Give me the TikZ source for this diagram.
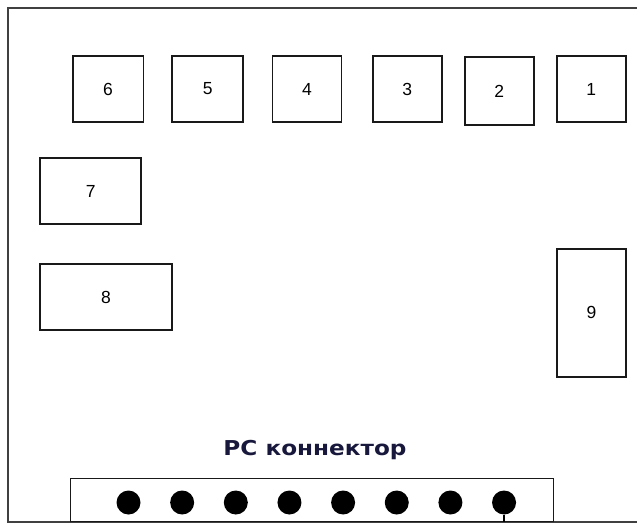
\documentclass[tikz,border=0pt]{standalone}
\usepackage{fontspec}
\usepackage{graphicx}
\setmainfont{Liberation Sans}
\newfontfamily\conlabelfont{DejaVu Sans}
\definecolor{navytext}{RGB}{24,24,60}
\begin{document}
\begin{tikzpicture}[x=1pt,y=-1pt,
  box/.style={draw=black!90, line width=1.8pt, inner sep=0pt, rectangle,
              font=\fontsize{17.5}{17.5}\selectfont},
  pindot/.style={circle, fill=black, draw=none, minimum size=24pt, inner sep=0pt},
  pinline/.style={draw=black, line width=1.6pt}]
\useasboundingbox (0,0) rectangle (637,523);
\begin{scope}
  \clip (0,0) rectangle (637,523);
  \draw[line width=2pt, black!75] (8,7.5) rectangle (660,521.5);
\end{scope}
% top row
\node[box, minimum width=70.8pt, minimum height=66.6pt] (b6) at (108.1,89) {6};
\node[box, minimum width=71pt,   minimum height=66.6pt] (b5) at (207.8,89) {5};
\node[box, minimum width=69pt,   minimum height=66.6pt] (b4) at (307,89) {4};
\node[box, minimum width=69.3pt, minimum height=66.6pt] (b3) at (407.3,89) {3};
\node[box, minimum width=69.3pt, minimum height=67.7pt] (b2) at (499.3,91.2) {2};
\node[box, minimum width=69.3pt, minimum height=66.6pt] (b1) at (591.3,89) {1};
% left side
\node[box, minimum width=101pt,  minimum height=66.6pt] (b7) at (90.8,191) {7};
\node[box, minimum width=131.4pt,minimum height=66.3pt] (b8) at (106,297.2) {8};
% right side
\node[box, minimum width=69pt,   minimum height=127.7pt] (b9) at (591.5,312.9) {9};
% connector
\node[font=\conlabelfont\bfseries\fontsize{20.5}{20.5}\selectfont, text=navytext, anchor=base]
  (lbl) at (315,455.7) {\scalebox{1.13}[1]{PC коннектор}};
\node[box, minimum width=483pt, minimum height=43pt] (conn) at (312,500) {};
\foreach \i in {1,...,8}
  \node[pindot] (d\i) at ({128.5+53.65*(\i-1)},502.5) {};
\draw[pinline] (d8.south) -- (d8.south |- conn.south);
\end{tikzpicture}
\end{document}
